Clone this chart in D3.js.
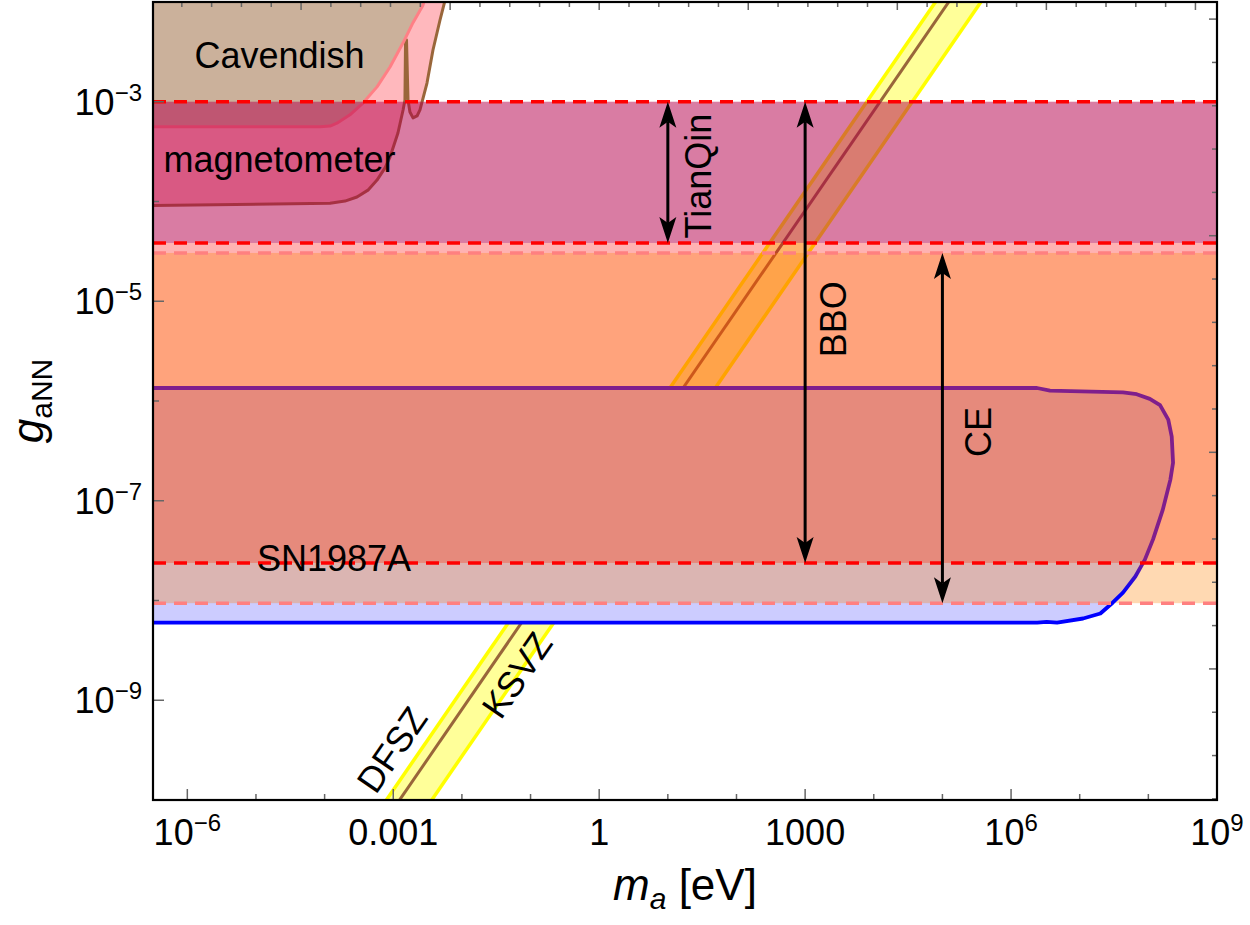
<!DOCTYPE html>
<html><head><meta charset="utf-8">
<script src="https://cdn.jsdelivr.net/npm/d3@7/dist/d3.min.js"></script>
<style>
body{margin:0;background:#fff}
text{font-family:"Liberation Sans",Arial,Helvetica,sans-serif;fill:#000}
</style>
</head><body>
<svg id="chart" width="1250" height="925"></svg>
<script>
// ---------------- data ----------------
const xTickValues = [1e-6, 1e-3, 1, 1e3, 1e6, 1e9];
const xTickLabels = [["10","\u22126"],["0.001"],["1"],["1000"],["10","6"],["10","9"]];
const yTickValues = [1e-3, 1e-5, 1e-7, 1e-9];
const yTickLabels = [["10","\u22123"],["10","\u22125"],["10","\u22127"],["10","\u22129"]];
const xDecadeExps = d3.range(-6, 10);
const yDecadeExps = d3.range(-10, -1);
const topNatExps = d3.range(-14, 21);     // e^n ticks on top frame
const rightNatExps = d3.range(-23, -4);   // e^n ticks on right frame

// magnetometer exclusion boundary (m [eV], g)
const magMass = [1e-7, 1.2e-4, 1.98e-4, 2.96e-4, 4.28e-4, 5.8e-4, 7.59e-4, 8.97e-4, 1.17e-3, 1.39e-3, 1.48e-3, 1.51e-3, 1.56e-3, 1.64e-3, 1.75e-3, 1.94e-3, 2.22e-3, 2.45e-3, 3.1e-3, 3.79e-3, 4.8e-3, 5.7e-3, 6.3e-3];
const magG    = [9.0e-5, 9.6e-5, 1.01e-4, 1.11e-4, 1.30e-4, 1.64e-4, 2.17e-4, 2.79e-4, 4.86e-4, 8.26e-4, 1.04e-3, 4.16e-3, 4.16e-3, 1.04e-3, 7.9e-4, 6.9e-4, 7.2e-4, 8.3e-4, 1.54e-3, 3.3e-3, 6.6e-3, 1.05e-2, 1.3e-2];
// Cavendish exclusion boundary
const cavMass = [1e-7, 8.6e-5, 1.2e-4, 1.51e-4, 2.34e-4, 3.62e-4, 5.8e-4, 8.97e-4, 1.39e-3, 1.94e-3, 2.71e-3, 3.16e-3];
const cavG    = [5.6e-4, 5.6e-4, 5.7e-4, 6.1e-4, 7.4e-4, 9.7e-4, 1.41e-3, 2.23e-3, 3.9e-3, 6.2e-3, 9.3e-3, 1.3e-2];
// SN1987A excluded region (closed contour)
const snMass = [1e-7, 2.39e6, 3.69e6, 4.27e7, 6.76e7, 1.05e8, 1.48e8, 1.95e8, 2.19e8, 2.29e8, 2.09e8, 1.62e8, 1.17e8, 8.9e7, 6.46e7, 4.27e7, 3.02e7, 2.0e7, 1.12e7, 4.68e6, 3.3e6, 2.4e6, 1e-7];
const snG    = [1.35e-6, 1.35e-6, 1.27e-6, 1.22e-6, 1.17e-6, 1.05e-6, 9.1e-7, 6.5e-7, 4.4e-7, 2.4e-7, 1.62e-7, 8.1e-8, 4.1e-8, 2.57e-8, 1.74e-8, 1.2e-8, 9.5e-9, 7.4e-9, 6.6e-9, 6.0e-9, 6.1e-9, 6.0e-9, 6.0e-9];

// QCD axion band g = c * m_a
const ksvzCoeff = 8.1e-8;
const bandUpperCoeff = 1.26e-7;
const bandLowerCoeff = 2.75e-8;
const bandMassRange = [1e-7, 1e10];

// GW detector sensitivity bands [g_low, g_high] and arrow mass
const tianqinBand = [3.84e-5, 1e-3];
const bboBand = [2.38e-8, 1e-3];
const ceBand = [9.4e-9, 3.05e-5];
const tianqinMass = 10, bboMass = 1000, ceMass = 1e5;

// ---------------- chart ----------------
const svg = d3.select("#chart");
const L = 153, R = 1217, T = 2, B = 800;
const x = d3.scaleLog().domain([Math.pow(10, -6.5), 1e9]).range([L, R]);
const y = d3.scaleLog().domain([1e-10, 1e-2]).range([B, T]);

const defs = svg.append("defs");
defs.append("clipPath").attr("id", "plotclip")
  .append("rect").attr("x", L).attr("y", T).attr("width", R - L).attr("height", B - T);
const grad = defs.append("linearGradient").attr("id", "snGrad")
  .attr("gradientUnits", "userSpaceOnUse")
  .attr("x1", 0).attr("x2", 0).attr("y1", y(2.6e-8)).attr("y2", y(1.2e-8));
grad.append("stop").attr("offset", 0).attr("stop-color", "#7f1f8c");
grad.append("stop").attr("offset", 1).attr("stop-color", "#0000ff");

const g = svg.append("g").attr("clip-path", "url(#plotclip)");
const line = d3.line().x(d => x(d[0])).y(d => y(d[1]));

// magnetometer and Cavendish regions
const magPts = magMass.map((m, i) => [m, magG[i]]);
const cavPts = cavMass.map((m, i) => [m, cavG[i]]);
const magPoly = magPts.concat([[1e-7, 1.3e-2]]);
const cavPoly = cavPts.concat([[1e-7, 1.3e-2]]);
g.append("path").attr("d", line(magPoly) + "Z").attr("fill", "#ffb8bd");
g.append("path").attr("d", line(cavPoly) + "Z").attr("fill", "#cbb19b");
g.append("path").attr("d", line(magPts)).attr("fill", "none").attr("stroke", "#99663a").attr("stroke-width", 3).attr("stroke-linejoin", "round");
g.append("path").attr("d", line(cavPts)).attr("fill", "none").attr("stroke", "#ff7f85").attr("stroke-width", 3).attr("stroke-linejoin", "round");

// QCD axion band
const m0 = bandMassRange[0], m1 = bandMassRange[1];
g.append("path").attr("d", line([[m0, bandUpperCoeff * m0], [m1, bandUpperCoeff * m1], [m1, bandLowerCoeff * m1], [m0, bandLowerCoeff * m0]]) + "Z")
  .attr("fill", "#ffff99");
[bandUpperCoeff, bandLowerCoeff].forEach(c => {
  g.append("path").attr("d", line([[m0, c * m0], [m1, c * m1]])).attr("stroke", "#ffff00").attr("stroke-width", 3.5).attr("fill", "none");
});
g.append("path").attr("d", line([[m0, ksvzCoeff * m0], [m1, ksvzCoeff * m1]])).attr("stroke", "#99663a").attr("stroke-width", 3).attr("fill", "none");

// SN1987A fill (opaque)
const snPts = snMass.map((m, i) => [m, snG[i]]);
g.append("path").attr("d", line(snPts) + "Z").attr("fill", "#ccccff");

// GW bands
function band(b, color) {
  g.append("rect").attr("x", L).attr("width", R - L)
    .attr("y", y(b[1])).attr("height", y(b[0]) - y(b[1]))
    .attr("fill", color).attr("fill-opacity", 0.3);
}
band(bboBand, "#ff0000");
band(tianqinBand, "#800080");
band(ceBand, "#ff8000");

// SN outline
g.append("path").attr("d", line(snPts)).attr("fill", "none")
  .attr("stroke", "url(#snGrad)").attr("stroke-width", 3.8).attr("stroke-linejoin", "round");

// dashed lines
function dashed(val, color) {
  g.append("line").attr("x1", L).attr("x2", R).attr("y1", y(val)).attr("y2", y(val))
    .attr("stroke", color).attr("stroke-width", 3.5).attr("stroke-dasharray", "13,8");
}
dashed(bboBand[1], "#ff0000");
dashed(tianqinBand[0], "#ff0000");
dashed(bboBand[0], "#ff0000");
dashed(ceBand[1], "#ff8080");
dashed(ceBand[0], "#ff8080");

// arrows
function arrow(m, b) {
  const xc = x(m), y1 = y(b[1]), y2 = y(b[0]);
  const hl = 26, hw = 8.5, notch = 20;
  g.append("line").attr("x1", xc).attr("x2", xc).attr("y1", y1 + notch).attr("y2", y2 - notch)
    .attr("stroke", "#000").attr("stroke-width", 3);
  g.append("path").attr("d", `M${xc},${y1} L${xc - hw},${y1 + hl} L${xc},${y1 + notch} L${xc + hw},${y1 + hl} Z`).attr("fill", "#000");
  g.append("path").attr("d", `M${xc},${y2} L${xc - hw},${y2 - hl} L${xc},${y2 - notch} L${xc + hw},${y2 - hl} Z`).attr("fill", "#000");
}
arrow(tianqinMass, tianqinBand);
arrow(bboMass, bboBand);
arrow(ceMass, ceBand);

// labels
const fs = 36;
function label(txt, px, py, rot) {
  return svg.append("text").attr("transform", `translate(${px},${py}) rotate(${rot})`)
    .attr("text-anchor", "middle").attr("font-size", fs).text(txt);
}
label("Cavendish", x(2.2e-5), y(2.2e-3), 0);
label("magnetometer", x(2.2e-5), y(1.98e-4), 0);
label("SN1987A", x(1.37e-4), y(1.98e-8), 0);
label("TianQin", x(42.6), y(1.8e-4), -90);
label("BBO", x(3.94e3), y(6.6e-6), -90);
label("CE", x(5.1e5), y(4.9e-7), -90);
const slopeAng = Math.atan((y(1e-9) - y(1e-8)) / (x(10) - x(1))) * 180 / Math.PI;
label("DFSZ", x(9.6e-4), y(3.2e-10), -Math.abs(slopeAng)).attr("dy", "0.35em");
label("KSVZ", x(0.0635), y(1.79e-9), -Math.abs(slopeAng)).attr("dy", "0.35em");

// frame ticks
const tk = svg.append("g").attr("stroke", "#666").attr("stroke-width", 1.5);
xDecadeExps.forEach(e => {
  const X = x(Math.pow(10, e));
  const major = e % 3 === 0;
  tk.append("line").attr("x1", X).attr("x2", X).attr("y1", B).attr("y2", B - (major ? 11 : 6));
});
yDecadeExps.forEach(e => {
  const Y = y(Math.pow(10, e));
  const major = Math.abs(e) % 2 === 1;
  tk.append("line").attr("x1", L).attr("x2", L + (major ? 11 : 6)).attr("y1", Y).attr("y2", Y);
});
topNatExps.forEach(n => {
  const X = x(Math.exp(n));
  tk.append("line").attr("x1", X).attr("x2", X).attr("y1", T).attr("y2", T + (n % 5 === 0 ? 8 : 5));
});
rightNatExps.forEach(n => {
  const Y = y(Math.exp(n));
  tk.append("line").attr("x1", R).attr("x2", R - (n % 5 === 0 ? 8 : 5)).attr("y1", Y).attr("y2", Y);
});

// frame
svg.append("rect").attr("x", L).attr("y", T).attr("width", R - L).attr("height", B - T)
  .attr("fill", "none").attr("stroke", "#000").attr("stroke-width", 2.2);

// tick labels
xTickValues.forEach((v, i) => {
  const t = svg.append("text").attr("x", x(v)).attr("y", 845).attr("text-anchor", "middle").attr("font-size", fs);
  const lb = xTickLabels[i];
  t.append("tspan").text(lb[0]);
  if (lb[1]) t.append("tspan").attr("dy", -14).attr("font-size", 24).text(lb[1]);
});
yTickValues.forEach((v, i) => {
  const t = svg.append("text").attr("x", 142).attr("y", y(v) + 13).attr("text-anchor", "end").attr("font-size", fs);
  const lb = yTickLabels[i];
  t.append("tspan").text(lb[0]);
  t.append("tspan").attr("dy", -14).attr("font-size", 24).text(lb[1]);
});

// axis titles
const xt = svg.append("text").attr("x", (L + R) / 2).attr("y", 900).attr("text-anchor", "middle").attr("font-size", 44);
xt.append("tspan").attr("font-style", "italic").text("m");
xt.append("tspan").attr("font-style", "italic").attr("font-size", 30).attr("dy", 9).text("a");
xt.append("tspan").attr("dy", -9).text(" [eV]");
const yt = svg.append("text").attr("transform", `translate(43,${(T + B) / 2})rotate(-90)`).attr("text-anchor", "middle").attr("font-size", 44);
yt.append("tspan").attr("font-style", "italic").text("g");
yt.append("tspan").attr("font-size", 30).attr("dy", 9).text("aNN");
</script>
</body></html>
